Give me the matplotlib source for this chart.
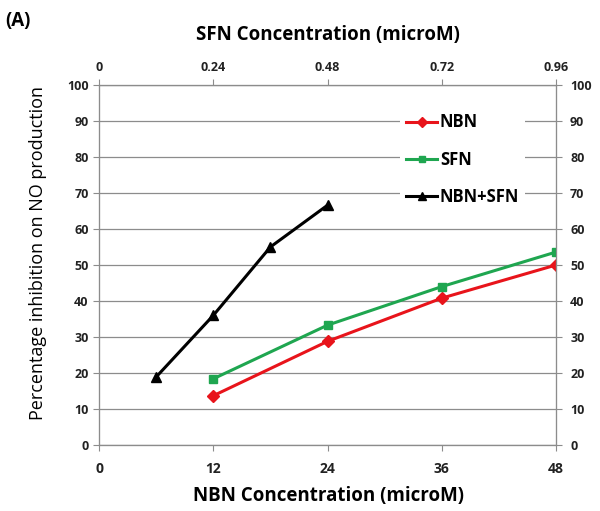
import matplotlib
matplotlib.use("Agg")
import matplotlib.pyplot as plt

nbn_x = [12, 24, 36, 48]
nbn_y = [13.7, 28.8, 40.8, 50.0]
sfn_x = [0.24, 0.48, 0.72, 0.96]
sfn_y = [18.4, 33.3, 44.0, 53.6]
combo_x = [6, 12, 18, 24]
combo_y = [18.9, 36.0, 55.0, 66.6]
bottom_ticks = [0, 12, 24, 36, 48]
top_ticks = [0, 0.24, 0.48, 0.72, 0.96]
y_ticks = list(range(0, 101, 10))

plt.rcParams['font.family'] = ['Open Sans', 'DejaVu Sans']
fig = plt.figure(figsize=(6, 5.11), dpi=100)
ax = fig.add_axes([0.165, 0.129, 0.762, 0.705])
gray = '#8c8c8c'

ax.set_xlim(0, 48)
ax.set_ylim(0, 100)
ax.set_xticks(bottom_ticks)
ax.set_yticks(y_ticks)
ax.yaxis.grid(True, color=gray, linewidth=0.9)
ax.set_axisbelow(True)
for s in ax.spines.values():
    s.set_color(gray)
ax.tick_params(axis='both', colors=gray, labelcolor='#222222', labelsize=9, length=4)
for lab in ax.get_xticklabels() + ax.get_yticklabels():
    lab.set_fontweight('bold')
ax.tick_params(axis='x', labelsize=10, pad=8)

axr = ax.twinx()
axr.set_ylim(0, 100)
axr.set_yticks(y_ticks)
axr.tick_params(axis='y', colors=gray, labelcolor='#222222', labelsize=9, length=4, pad=6)
for lab in axr.get_yticklabels():
    lab.set_fontweight('bold')

axt = ax.twiny()
axt.set_xlim(0, 0.96)
axt.set_xticks(top_ticks)
axt.set_xticklabels(['0', '0.24', '0.48', '0.72', '0.96'])
axt.tick_params(axis='x', colors=gray, labelcolor='#222222', labelsize=9, length=4)
for lab in axt.get_xticklabels():
    lab.set_fontweight('bold')
for a in (axr, axt):
    for s in a.spines.values():
        s.set_color(gray)

l1, = ax.plot(nbn_x, nbn_y, color='#e8141b', marker='D', markersize=6, linewidth=2.2, label='NBN')
l2, = axt.plot(sfn_x, sfn_y, color='#1fa650', marker='s', markersize=6, linewidth=2.2, label='SFN')
l3, = ax.plot(combo_x, combo_y, color='#000000', marker='^', markersize=7, linewidth=2.2, label='NBN+SFN')

leg = axt.legend(handles=[l1, l2, l3], loc='upper left', bbox_to_anchor=(0.64, 0.96),
                 frameon=True, fancybox=False, edgecolor='none', facecolor='white', framealpha=1,
                 handlelength=1.9, handletextpad=0.15, labelspacing=1.15, borderpad=0.35,
                 markerscale=0.8, prop={'weight': 'bold', 'size': 12})

fig.text(0.008, 0.978, '(A)', fontsize=13.5, fontweight='bold', va='top', ha='left')
fig.text(0.547, 0.931, 'SFN Concentration (microM)', fontsize=13.5, fontweight='bold', ha='center', va='center')
fig.text(0.547, 0.03, 'NBN Concentration (microM)', fontsize=13.5, fontweight='bold', ha='center', va='center')
fig.text(0.063, 0.504, 'Percentage inhibition on NO production', fontsize=13, rotation=90, ha='center', va='center')

fig.savefig('out.png', dpi=100)
